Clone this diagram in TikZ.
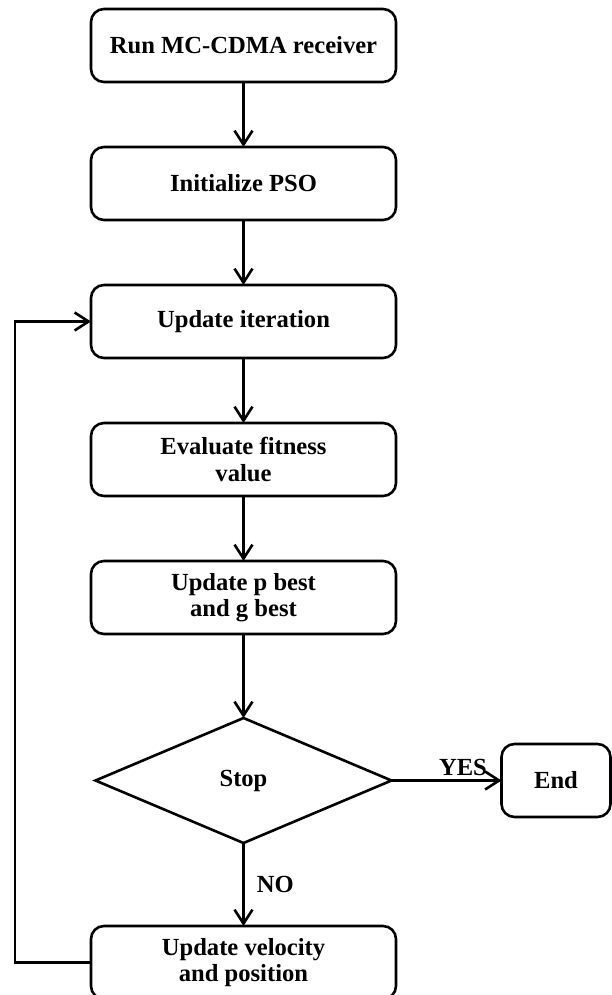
\documentclass[tikz,border=0pt]{standalone}
\usepackage{fontspec}
\setmainfont{Liberation Serif}
\usetikzlibrary{positioning,shapes.geometric,arrows.meta}

\begin{document}
\begin{tikzpicture}[x=1pt,y=1pt,
        font=\fontsize{12.3}{13.2}\selectfont\bfseries,
        >={Straight Barb[length=7pt,width=9pt,line width=1.3pt]},
        flowbox/.style={rectangle, rounded corners=6.5pt, draw, line width=1.3pt, outer sep=0pt, minimum width=152.5pt, minimum height=36.5pt, inner sep=2pt, align=center},
        endbox/.style={flowbox, minimum width=54.5pt},
        stopnode/.style={diamond, draw, line width=1.3pt, outer sep=0pt, minimum width=148pt, minimum height=62.5pt, inner sep=0pt},
        flow/.style={->, line width=1.3pt}]

        \useasboundingbox (-121.75,22.75) rectangle (183.75,-474.75);

        \node[flowbox] (run) at (0,0) {Run MC-CDMA receiver};
        \node[flowbox] (init) [below=32.5pt of run] {Initialize PSO};
        \node[flowbox] (iter) [below=32.5pt of init] {Update iteration};
        \node[flowbox] (fit) [below=32.5pt of iter] {Evaluate fitness\\value};
        \node[flowbox] (best) [below=32.5pt of fit] {Update p best\\and g best};
        \node[stopnode] (stop) [below=42pt of best] {Stop};
        \node[endbox] (end) [right=55pt of stop] {End};
        \node[flowbox] (vel) [below=41.5pt of stop] {Update velocity\\and position};

        \draw[flow] (run) -- (init);
        \draw[flow] (init) -- (iter);
        \draw[flow] (iter) -- (fit);
        \draw[flow] (fit) -- (best);
        \draw[flow] (best) -- (stop);
        \draw[flow] (stop) -- node[above, pos=0.65, inner sep=1.5pt] {YES} (end);
        \draw[flow] (stop) -- node[right, inner sep=6pt] {NO} (vel);
        \draw[flow] (vel.west) -- ++(-38,0) |- (iter.west);

        \end{tikzpicture}
\end{document}
